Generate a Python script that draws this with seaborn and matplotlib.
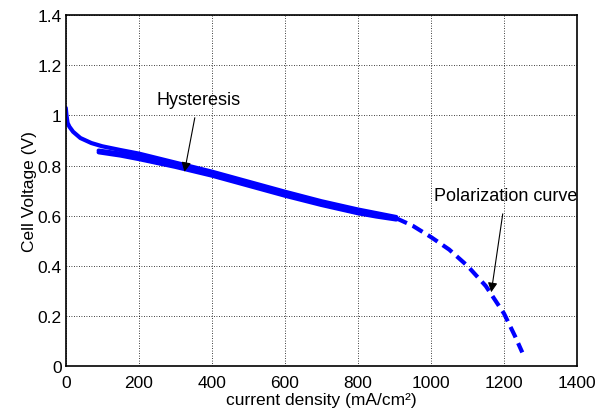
#!/usr/bin/env python3
"""Fuel cell polarization curve with hysteresis band."""

import matplotlib
matplotlib.use("Agg")
import matplotlib.pyplot as plt
import seaborn as sns

# descending sweep (from OCV)
up_current = [0, 2, 5, 10, 20, 40, 70, 100, 150, 200, 300, 400, 500, 600, 700, 800, 905]
up_voltage = [1.03, 1.0, 0.97, 0.955, 0.935, 0.91, 0.89, 0.877, 0.862, 0.848, 0.812, 0.776, 0.736, 0.696, 0.658, 0.625, 0.595]

# return sweep (hysteresis)
down_current = [905, 850, 800, 700, 600, 500, 400, 300, 200, 150, 90]
down_voltage = [0.585, 0.597, 0.61, 0.643, 0.68, 0.72, 0.76, 0.795, 0.826, 0.84, 0.853]

# second loop, slightly offset
loop_current = [90, 150, 250, 350, 450, 550, 650, 750, 850]
loop_voltage = [0.86, 0.848, 0.82, 0.786, 0.748, 0.707, 0.67, 0.636, 0.606]

# extrapolated polarization curve
pol_current = [905, 950, 1000, 1050, 1100, 1150, 1200, 1230, 1250]
pol_voltage = [0.59, 0.56, 0.515, 0.465, 0.40, 0.32, 0.21, 0.12, 0.055]

x_ticks = [0, 200, 400, 600, 800, 1000, 1200, 1400]
y_ticks = [0, 0.2, 0.4, 0.6, 0.8, 1.0, 1.2, 1.4]
y_ticklabels = ["0", "0.2", "0.4", "0.6", "0.8", "1", "1.2", "1.4"]

sns.set_style("white")
plt.rcParams["font.family"] = ["Liberation Sans", "DejaVu Sans"]
plt.rcParams["text.color"] = "black"
plt.rcParams["axes.labelcolor"] = "black"

fig = plt.figure(figsize=(5.98, 4.14), dpi=100)
ax = fig.add_axes([0.110, 0.113, 0.855, 0.848])

blue = "#0000ff"
sns.lineplot(x=up_current, y=up_voltage, sort=False, estimator=None, color=blue, lw=3.0, ax=ax)
sns.lineplot(x=down_current, y=down_voltage, sort=False, estimator=None, color=blue, lw=3.0, ax=ax)
sns.lineplot(x=loop_current, y=loop_voltage, sort=False, estimator=None, color=blue, lw=3.0, ax=ax)
sns.lineplot(x=pol_current, y=pol_voltage, sort=False, estimator=None, color=blue, lw=3.0,
             ax=ax, linestyle=(0, (2.8, 1.5)))

ax.set_xlim(0, 1400)
ax.set_ylim(0, 1.4)
ax.set_xticks(x_ticks)
ax.set_yticks(y_ticks)
ax.set_yticklabels(y_ticklabels)
ax.tick_params(direction="in", length=3, labelsize=12.5, colors="black", pad=3)
ax.tick_params(axis="x", pad=6)
ax.grid(True, color="black", linestyle=(0, (1, 2)), linewidth=0.6)
for s in ax.spines.values():
    s.set_color("black")
    s.set_linewidth(1.2)

ax.set_xlabel("current density (mA/cm²)", fontsize=12.5, labelpad=2)
ax.set_ylabel("Cell Voltage (V)", fontsize=12.5, labelpad=0)

ax.annotate("Hysteresis", xy=(325, 0.775), xytext=(363, 1.065), fontsize=13,
            ha="center", va="center",
            arrowprops=dict(arrowstyle="-|>", color="black", lw=0.8, mutation_scale=14,
                            shrinkA=5, shrinkB=0))
ax.annotate("Polarization curve", xy=(1165, 0.295), xytext=(1204, 0.682), fontsize=13,
            ha="center", va="center",
            arrowprops=dict(arrowstyle="-|>", color="black", lw=0.8, mutation_scale=14,
                            shrinkA=5, shrinkB=0))

plt.savefig("out.png", dpi=100)
plt.close()
